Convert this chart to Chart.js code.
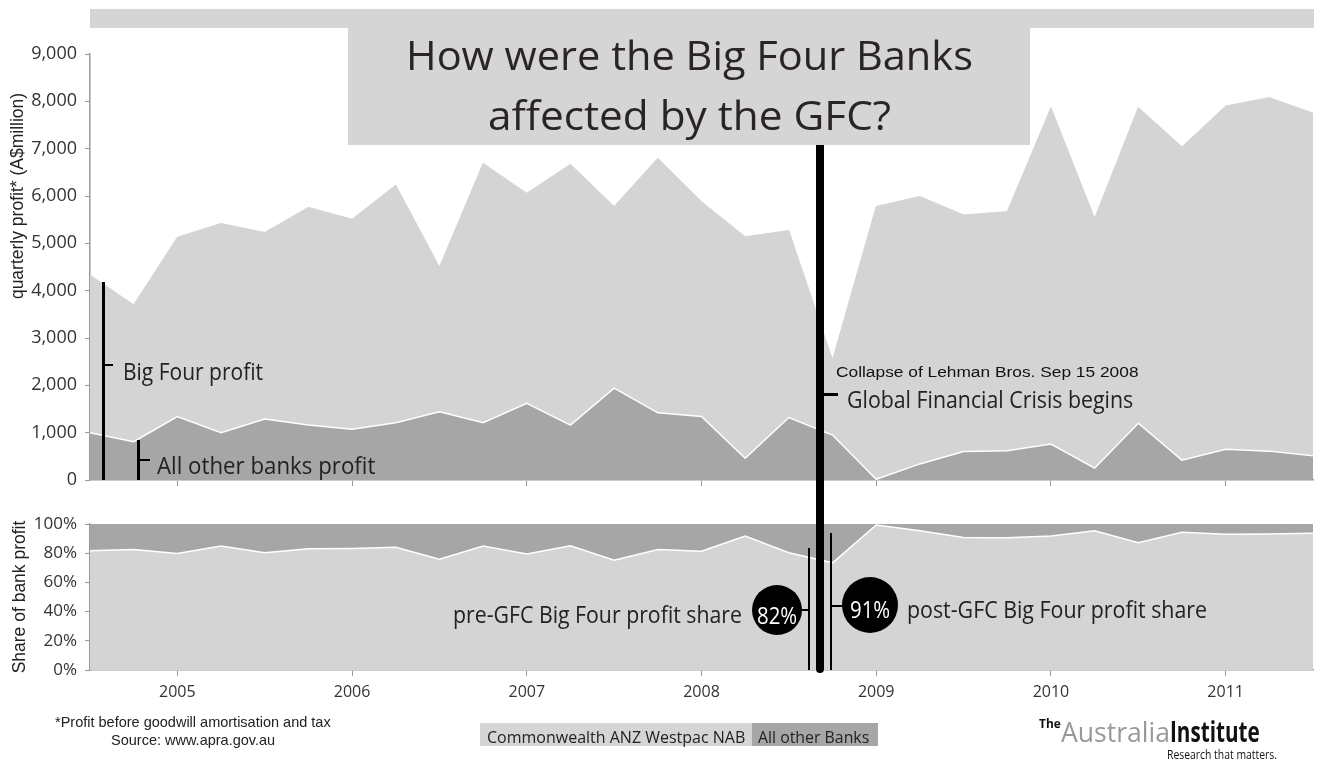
<!DOCTYPE html>
<html>
<head>
<meta charset="utf-8">
<title>How were the Big Four Banks affected by the GFC?</title>
<script src="https://cdn.jsdelivr.net/npm/chart.js@4.4.1/dist/chart.umd.min.js"></script>
<style>
  body { margin: 0; background: #fff; }
  #page { position: relative; width: 1320px; height: 764px; overflow: hidden; font-family: "Open Sans", sans-serif; color: #222; }
  canvas { position: absolute; left: 0; }
  .box { position: absolute; background: #d5d5d5; }
  .bar { position: absolute; background: #000; }
  .t { position: absolute; line-height: 1; white-space: nowrap; transform-origin: 0 0; }
  .ytitle { position: absolute; font: 17.5px "Liberation Sans", Arial, sans-serif; color: #222; white-space: nowrap; transform: translate(-50%, -50%) rotate(-90deg); }
  .dot { position: absolute; background: #000; border-radius: 50%; }
</style>
</head>
<body>
<div id="page">
  <canvas id="profitChart" width="1320" height="500" style="top:0"></canvas>
  <canvas id="shareChart" width="1320" height="215" style="top:500px"></canvas>

  <!-- title banner -->
  <div class="box" style="left:90px;top:9px;width:1224px;height:19px"></div>
  <div class="box" style="left:348px;top:28px;width:682px;height:117px"></div>

  <!-- axis titles -->
  <div class="ytitle" style="left:17px;top:196px">quarterly profit* (A$million)</div>
  <div class="ytitle" style="left:19px;top:597px">Share of bank profit</div>

  <!-- brackets and markers -->
  <div class="bar" style="left:102px;top:282px;width:3px;height:198px"></div>
  <div class="bar" style="left:104px;top:364px;width:9px;height:2px"></div>
  <div class="bar" style="left:137px;top:440px;width:3px;height:40px"></div>
  <div class="bar" style="left:139px;top:459px;width:11px;height:2px"></div>

  <div class="bar" style="left:816px;top:145px;width:8px;height:528px;border-radius:0 0 4px 4px"></div>
  <div class="bar" style="left:823px;top:393px;width:15px;height:3px"></div>

  <div class="bar" style="left:808px;top:548px;width:2px;height:122px"></div>
  <div class="bar" style="left:830px;top:533px;width:2px;height:137px"></div>
  <div class="bar" style="left:800px;top:609px;width:9px;height:2px"></div>
  <div class="bar" style="left:831px;top:605px;width:12px;height:2px"></div>
  <div class="dot" style="left:752px;top:585px;width:50px;height:50px"></div>
  <div class="dot" style="left:842px;top:577px;width:56px;height:56px"></div>

  <!-- legend -->
  <div class="box" style="left:480px;top:723px;width:272px;height:23px;background:#d5d5d5"></div>
  <div class="box" style="left:752px;top:723px;width:126px;height:23px;background:#a6a6a6"></div>
</div>

<script>
// quarter positions (fraction of year) and values
const quarterX = [2004.5, 2004.75, 2005, 2005.25, 2005.5, 2005.75, 2006, 2006.25, 2006.5, 2006.75,
  2007, 2007.25, 2007.5, 2007.75, 2008, 2008.25, 2008.5, 2008.75, 2009, 2009.25,
  2009.5, 2009.75, 2010, 2010.25, 2010.5, 2010.75, 2011, 2011.25, 2011.5];
const yearTicks = [2005, 2006, 2007, 2008, 2009, 2010, 2011];

// A$ million per quarter
const bigFourProfit = [3330, 2890, 3790, 4420, 3940, 4600, 4440, 5020, 3060, 5480,
  4440, 5510, 3840, 5380, 4540, 4680, 3950, 1590, 5765, 5650,
  5000, 5050, 7110, 5280, 6670, 6620, 7250, 7470, 7240];
const otherBanksProfit = [1000, 810, 1340, 1000, 1290, 1160, 1070, 1210, 1440, 1210,
  1620, 1160, 1940, 1420, 1340, 460, 1320, 950, 15, 340,
  600, 620, 760, 250, 1200, 420, 650, 610, 510];

// share of total bank profit, %
const bigFourShare = [81.6, 82.6, 79.8, 84.9, 80.3, 83, 83.3, 84, 75.9, 84.9,
  79.4, 85.1, 75.2, 82.6, 81.4, 91.7, 80.3, 73.4, 99.3, 95.4,
  90.8, 90.6, 91.7, 95.4, 87.1, 94.3, 92.9, 93.1, 93.6];
const otherBanksShare = [18.4, 17.4, 20.2, 15.1, 19.7, 17, 16.7, 16, 24.1, 15.1,
  20.6, 14.9, 24.8, 17.4, 18.6, 8.3, 19.7, 26.6, 0.7, 4.6,
  9.2, 9.4, 8.3, 4.6, 12.9, 5.7, 7.1, 6.9, 6.4];

const LIGHT = "#d4d4d4";
const DARK = "#a6a6a6";
const AXIS = "#999";

const points = (vals) => quarterX.map((x, i) => ({ x, y: vals[i] }));
const yearsOnly = (s) => { s.ticks = yearTicks.map((value) => ({ value })); };

Chart.defaults.font.family = '"Open Sans", sans-serif';
Chart.defaults.color = "#333";

const common = {
  responsive: false,
  animation: false,
  plugins: { legend: { display: false }, tooltip: { enabled: false } },
  elements: { point: { radius: 0 }, line: { tension: 0 } },
};

// === Quarterly profit (stacked area) ===
new Chart(document.getElementById("profitChart"), {
  type: "line",
  data: {
    datasets: [
      { data: points(otherBanksProfit), backgroundColor: DARK, borderColor: "#fff", borderWidth: 1.5, fill: "origin" },
      { data: points(bigFourProfit), backgroundColor: LIGHT, borderColor: LIGHT, borderWidth: 1, fill: "-1" },
    ],
  },
  options: {
    ...common,
    layout: { padding: { left: 0, right: 7, top: 54, bottom: 0 } },
    scales: {
      x: {
        type: "linear", min: 2004.5, max: 2011.5,
        afterBuildTicks: yearsOnly,
        ticks: { autoSkip: false, callback: () => "" },
        grid: { drawOnChartArea: false, tickLength: 6, color: AXIS },
        border: { color: AXIS, width: 1.5 },
        afterFit: (s) => { s.height = 20; },
      },
      y: {
        stacked: true, min: 0, max: 9000,
        ticks: { stepSize: 1000, padding: 8, font: { size: 18 }, callback: (v) => v.toLocaleString("en-US") },
        grid: { drawOnChartArea: false, tickLength: 5, color: AXIS },
        border: { color: AXIS, width: 1.5 },
        afterFit: (s) => { s.width = 90; },
      },
    },
  },
});

// === Share of bank profit ===
new Chart(document.getElementById("shareChart"), {
  type: "line",
  data: {
    datasets: [
      { data: points(bigFourShare), backgroundColor: LIGHT, borderColor: "#fff", borderWidth: 1.5, fill: "origin" },
      { data: points(otherBanksShare), backgroundColor: DARK, borderColor: DARK, borderWidth: 1, fill: "-1" },
    ],
  },
  options: {
    ...common,
    layout: { padding: { left: 0, right: 7, top: 24, bottom: 0 } },
    scales: {
      x: {
        type: "linear", min: 2004.5, max: 2011.5,
        afterBuildTicks: yearsOnly,
        ticks: { autoSkip: false, padding: 7, font: { size: 16 }, callback: (v) => String(v) },
        grid: { drawOnChartArea: false, tickLength: 6, color: AXIS },
        border: { color: AXIS, width: 1.5 },
        afterFit: (s) => { s.height = 45; },
      },
      y: {
        stacked: true, min: 0, max: 100,
        ticks: { stepSize: 20, padding: 8, font: { size: 17 }, callback: (v) => v + "%" },
        grid: {
          color: (ctx) => (ctx.tick && ctx.tick.value === 100 ? AXIS : "rgba(0,0,0,0)"),
          tickColor: AXIS, tickLength: 5,
        },
        border: { color: AXIS, width: 1.5 },
        afterFit: (s) => { s.width = 90; },
      },
    },
  },
});

// === Text annotations ===
const page = document.getElementById("page");

function addText(txt, x, baseline, opts = {}) {
  const el = document.createElement("div");
  el.className = "t";
  el.textContent = txt;
  const size = opts.size || 24;
  const family = opts.family || '"Open Sans", sans-serif';
  el.style.font = `${opts.weight || 400} ${size}px ${family}`;
  el.style.color = opts.color || "#222";
  page.appendChild(el);
  const asc = family.includes("Liberation") ? 0.8465 : 0.888;
  el.style.top = baseline - asc * size + "px";
  const w = el.offsetWidth;
  const sx = opts.width ? opts.width / w : opts.scale || 1;
  let left = x;
  if (opts.align === "center") left = x - (w * sx) / 2;
  if (opts.align === "right") left = x - w * sx;
  el.style.left = left + "px";
  el.style.transform = `scaleX(${sx})`;
}

const ARIAL = '"Liberation Sans", Arial, sans-serif';

addText("How were the Big Four Banks", 689, 63, { size: 40, width: 567, align: "center", color: "#2b2424" });
addText("affected by the GFC?", 689, 123, { size: 40, width: 403, align: "center", color: "#2b2424" });

addText("Big Four profit", 123, 375, { size: 24, width: 140 });
addText("All other banks profit", 157, 469, { size: 24, width: 218 });

addText("Collapse of Lehman Bros. Sep 15 2008", 836, 376, { size: 15.5, family: ARIAL, width: 303, color: "#111" });
addText("Global Financial Crisis begins", 847, 403, { size: 24, width: 286 });

addText("pre-GFC Big Four profit share", 742, 618, { size: 24, width: 289, align: "right" });
addText("post-GFC Big Four profit share", 907, 613, { size: 24, width: 300 });
addText("82%", 777, 619, { size: 24, scale: 0.85, align: "center", color: "#fff" });
addText("91%", 870, 613, { size: 24, scale: 0.85, align: "center", color: "#fff" });

addText("*Profit before goodwill amortisation and tax", 193, 726, { size: 14.5, family: ARIAL, align: "center" });
addText("Source: www.apra.gov.au", 193, 744, { size: 14.5, family: ARIAL, align: "center" });

addText("Commonwealth ANZ Westpac NAB", 487, 740, { size: 16, width: 258 });
addText("All other Banks", 758, 740, { size: 16, width: 111 });

addText("The", 1039, 726, { size: 13, weight: 700, width: 22, color: "#111" });
addText("Australia", 1061, 737, { size: 28, width: 109, color: "#999" });
addText("Institute", 1170, 737, { size: 28, weight: 700, width: 90, color: "#111" });
addText("Research that matters.", 1167, 757, { size: 12, width: 110, color: "#111" });
</script>
</body>
</html>
